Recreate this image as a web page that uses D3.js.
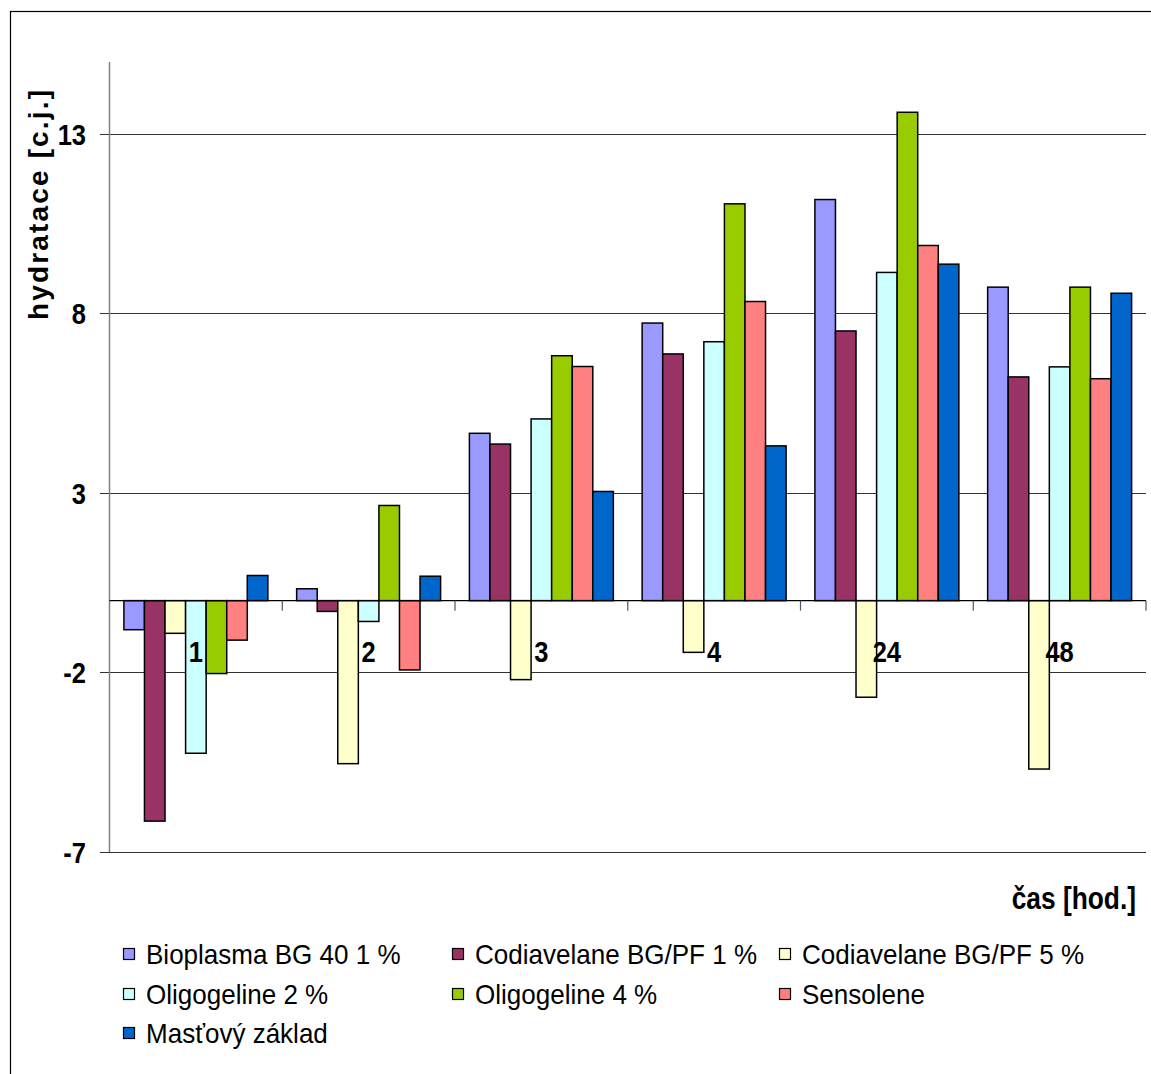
<!DOCTYPE html>
<html><head><meta charset="utf-8">
<script src="https://cdn.jsdelivr.net/npm/d3@7"></script>
<style>
body{margin:0;background:#fff;}
svg{display:block;font-family:"Liberation Sans",Arial,sans-serif;}
</style></head>
<body><svg id="c" width="1151" height="1074"></svg>
<script>
const categories = ["1","2","3","4","24","48"];
const seriesNames = ["Bioplasma BG 40 1 %","Codiavelane BG/PF 1 %","Codiavelane BG/PF 5 %","Oligogeline 2 %","Oligogeline 4 %","Sensolene","Masťový základ"];
const colors = ["#9999FF","#993366","#FFFFCC","#CCFFFF","#99CC00","#FF8080","#0066CC"];
const bioplasma   = [-0.81, 0.33, 4.66, 7.73, 11.17, 8.73];
const codia1      = [-6.14, -0.30, 4.36, 6.87, 7.51, 6.23];
const codia5      = [-0.91, -4.54, -2.20, -1.44, -2.69, -4.69];
const oligo2      = [-4.25, -0.58, 5.06, 7.21, 9.14, 6.51];
const oligo4      = [-2.03, 2.65, 6.82, 11.05, 13.60, 8.73];
const sensolene   = [-1.10, -1.93, 6.52, 8.33, 9.89, 6.18];
const mastovy     = [0.70, 0.68, 3.04, 4.31, 9.37, 8.56];
const seriesValues = [bioplasma, codia1, codia5, oligo2, oligo4, sensolene, mastovy];
const yTicks = [-7,-2,3,8,13];
const yTitle = "hydratace [c.j.]";
const xTitle = "čas [hod.]";

const svg = d3.select("#c");
// outer border
svg.append("rect").attr("x",10.5).attr("y",11.5).attr("width",1160).attr("height",1080)
  .attr("fill","none").attr("stroke","#000").attr("stroke-width",1.2);

const y = d3.scaleLinear().domain([-7,15]).range([852,62]);
const x0 = d3.scaleBand().domain(categories).range([109.5,1146]).padding(0);
const x1 = d3.scaleBand().domain(seriesNames).range([0,x0.bandwidth()]).paddingInner(0).paddingOuter(0.7);

const SX = 0.85; // horizontal condensing of bold texts
function condText(g, x, yy, txt, size, anchor){
  return g.append("text").attr("transform",`translate(${x},${yy}) scale(${SX},1)`)
    .attr("text-anchor",anchor).attr("font-size",size).attr("font-weight","bold").text(txt);
}

// gridlines + tick marks
svg.append("g").selectAll("line").data(yTicks).join("line")
  .attr("x1",100).attr("x2",1146).attr("y1",d=>Math.round(y(d))+0.5).attr("y2",d=>Math.round(y(d))+0.5)
  .attr("stroke","#333").attr("stroke-width",1);
// y axis
svg.append("line").attr("x1",109.5).attr("x2",109.5).attr("y1",y(15)).attr("y2",y(-7))
  .attr("stroke","#808080").attr("stroke-width",1.5);
// y tick labels
const gYT = svg.append("g");
yTicks.forEach(t=>condText(gYT, 86, y(t)+11, t, 30, "end"));

// bars
const gBars = svg.append("g");
categories.forEach((c,ci)=>{
  seriesNames.forEach((s,si)=>{
    const v = seriesValues[si][ci];
    gBars.append("rect")
      .attr("x",x0(c)+x1(s)).attr("width",x1.bandwidth())
      .attr("y",y(Math.max(0,v))).attr("height",Math.abs(y(v)-y(0)))
      .attr("fill",colors[si]).attr("stroke","#000").attr("stroke-width",1.5);
  });
});

// zero axis line with ticks
svg.append("line").attr("x1",109.5).attr("x2",1146).attr("y1",y(0)).attr("y2",y(0))
  .attr("stroke","#000").attr("stroke-width",1.2);
const bounds = categories.map(c=>x0(c)+x0.bandwidth());
svg.append("g").selectAll("line").data(bounds).join("line")
  .attr("x1",d=>d).attr("x2",d=>d).attr("y1",y(0)).attr("y2",y(0)+10)
  .attr("stroke","#555").attr("stroke-width",1.2);

// category labels
const gCat = svg.append("g");
categories.forEach(c=>condText(gCat, x0(c)+x0.bandwidth()/2, 662, c, 30, "middle"));

// axis titles
condText(svg, 1136, 909, xTitle, 31, "end");
svg.append("text").attr("transform","translate(48,205) rotate(-90)")
  .attr("text-anchor","middle").attr("font-size",28).attr("font-weight","bold")
  .attr("textLength",230).attr("lengthAdjust","spacing").text(yTitle);

// legend
const legX = [123,452,779];
const legY = [964,1004,1043];
seriesNames.forEach((s,i)=>{
  const col = i%3, row = Math.floor(i/3);
  const g = svg.append("g");
  g.append("rect").attr("x",legX[col]+0.5).attr("y",legY[row]-15.5).attr("width",11).attr("height",11)
    .attr("fill",colors[i]).attr("stroke","#000").attr("stroke-width",1.2);
  g.append("text").attr("transform",`translate(${legX[col]+23},${legY[row]}) scale(0.93,1)`)
    .attr("font-size",28).text(s);
});
</script></body></html>
